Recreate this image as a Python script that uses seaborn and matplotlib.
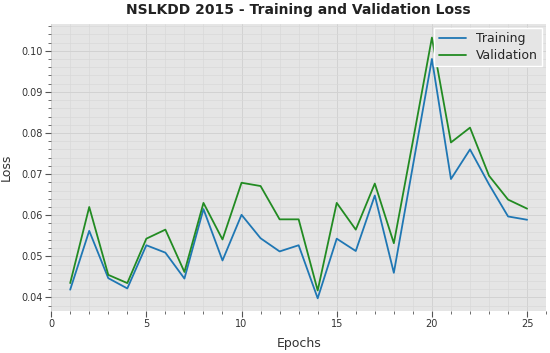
import numpy as np
import pandas as pd
import matplotlib
matplotlib.use('Agg')
import matplotlib.pyplot as plt
import seaborn as sns
from matplotlib.ticker import MultipleLocator

epochs = list(range(1, 26))
train_loss = [0.0419, 0.0562, 0.0447, 0.0422, 0.0527, 0.0509, 0.0446, 0.0615, 0.0490, 0.0601,
              0.0544, 0.0512, 0.0527, 0.0398, 0.0543, 0.0513, 0.0648, 0.0460, 0.0720, 0.0980,
              0.0688, 0.0760, 0.0675, 0.0597, 0.0589]
val_loss = [0.0435, 0.0620, 0.0455, 0.0435, 0.0543, 0.0565, 0.0462, 0.0630, 0.0541, 0.0679,
            0.0671, 0.0590, 0.0590, 0.0417, 0.0630, 0.0565, 0.0677, 0.0532, 0.0780, 0.1032,
            0.0777, 0.0813, 0.0696, 0.0638, 0.0616]

df = pd.DataFrame({'Epochs': epochs + epochs,
                   'Loss': train_loss + val_loss,
                   'set': ['Training'] * 25 + ['Validation'] * 25})

sns.set_style('darkgrid', {'axes.facecolor': '#e5e5e5', 'grid.color': '#d6d6d6'})
plt.rcParams['font.family'] = ['DejaVu Sans']

fig, ax = plt.subplots(figsize=(5.5, 3.53), dpi=100)
sns.lineplot(data=df, x='Epochs', y='Loss', hue='set',
             palette={'Training': '#1f77b4', 'Validation': '#228b22'},
             linewidth=1.3, ax=ax)

ax.set_xlim(0, 26)
ax.set_ylim(0.0368, 0.1065)
ax.xaxis.set_major_locator(MultipleLocator(5))
ax.xaxis.set_minor_locator(MultipleLocator(1))
ax.yaxis.set_major_locator(MultipleLocator(0.01))
ax.yaxis.set_minor_locator(MultipleLocator(0.002))
ax.yaxis.set_major_formatter(matplotlib.ticker.FormatStrFormatter('%.2f'))
ax.grid(which='minor', color='#d9d9d9', linewidth=0.5)
ax.grid(which='major', color='#d2d2d2', linewidth=0.7)
ax.tick_params(which='both', bottom=True, left=True, direction='out', colors='#555555',
               labelsize=7, labelcolor='#333333', pad=2)
ax.tick_params(which='major', length=4)
ax.tick_params(which='minor', length=2)
for s in ax.spines.values():
    s.set_visible(False)

ax.set_title('NSLKDD 2015 - Training and Validation Loss', fontsize=10, fontweight='bold',
             color='#222222', pad=7)
ax.set_xlabel('Epochs', fontsize=9, color='#333333', labelpad=6)
ax.set_ylabel('Loss', fontsize=9, color='#333333', labelpad=6)

leg = ax.legend(loc='upper right', fontsize=9, fancybox=False, framealpha=1,
                edgecolor='white', borderaxespad=0.3, handlelength=2.2,
                labelspacing=0.3, borderpad=0.35)
leg.set_title(None)

fig.subplots_adjust(left=0.093, right=0.993, top=0.932, bottom=0.12)
fig.savefig('out.png', dpi=100)
